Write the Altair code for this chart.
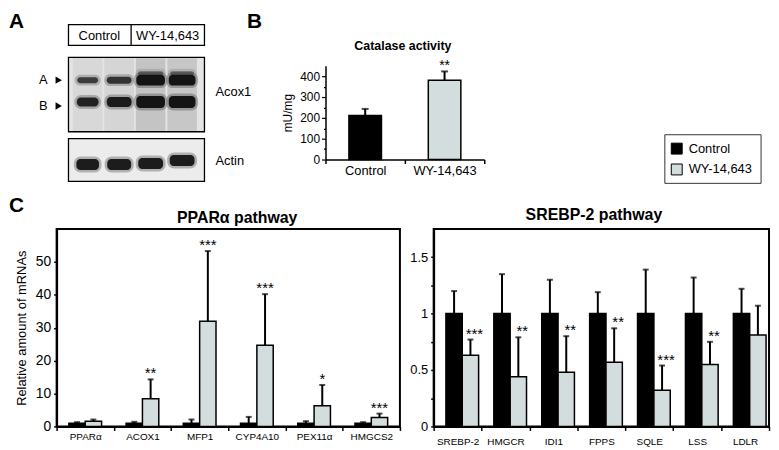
import altair as alt
import pandas as pd

FONT = "Liberation Sans"
CTRL_COLOR = "#000000"
WY_COLOR = "#d4dddd"
series = ["Control", "WY-14,643"]

# ---------------- Panel A (western blot schematic) ----------------
blot_boxes = ["header", "Acox1", "Actin"]
box_top = [14, 47, 129]
box_bottom = [35, 122, 172]
box_fill = ["white", "#e4e4e4", "#ececec"]
box_left, box_right = 0.39, 4.71
divider_lane = 2.38

lanes = [1, 2, 3, 4]
smear_opacity = [0.2, 0.25, 0.55, 0.5]

band_lane = [1, 2, 3, 4, 1, 2, 3, 4, 1, 2, 3, 4, 3, 4]
band_y = [70, 70, 70, 70, 92, 92, 92, 92, 155, 155, 154, 151, 63, 63]
band_w = [0.66, 0.79, 0.91, 0.85, 0.69, 0.79, 0.91, 0.85, 0.72, 0.76, 0.79, 0.79, 0.8, 0.75]
band_h = [6, 7, 11, 11, 9, 10, 12, 12, 11, 11, 11, 11, 4, 4]
band_int = [0.75, 0.8, 1, 1, 0.9, 0.95, 1, 1, 0.95, 0.95, 0.95, 0.95, 0.45, 0.45]

header_text = ["Control", "WY-14,643"]
header_x = [1.37, 3.54]
side_text = ["Acox1", "Actin"]
side_y = [82, 151]
marker_text = ["A", "B"]
marker_y = [70, 96]

# ---------------- Panel B ----------------
b_groups = ["Control", "WY-14,643"]
b_values = [212, 380]
b_upper = [243, 423]
b_sig = ["", "**"]

# ---------------- Panel C ----------------
genes1 = ["PPARα", "ACOX1", "MFP1", "CYP4A10", "PEX11α", "HMGCS2"]
ctrl1 = [1, 1, 1, 1, 1, 1]
ctrl1_up = [1.3, 1.4, 2.1, 2.9, 1.6, 1.3]
wy1 = [1.6, 8.4, 32.0, 24.7, 6.3, 2.7]
wy1_up = [2.1, 14.3, 53.3, 40.2, 12.6, 3.9]
sig1 = ["", "**", "***", "***", "*", "***"]

genes2 = ["SREBP-2", "HMGCR", "IDI1", "FPPS", "SQLE", "LSS", "LDLR"]
ctrl2 = [1, 1, 1, 1, 1, 1, 1]
ctrl2_up = [1.20, 1.35, 1.30, 1.19, 1.39, 1.32, 1.22]
wy2 = [0.63, 0.44, 0.48, 0.57, 0.32, 0.55, 0.81]
wy2_up = [0.77, 0.79, 0.80, 0.87, 0.54, 0.75, 1.07]
sig2 = ["***", "**", "**", "**", "***", "**", ""]

one = pd.DataFrame({"v": [0]})
color_scale = alt.Scale(domain=series, range=[CTRL_COLOR, WY_COLOR])


# ================= Panel A =================
def qx(f):
    return alt.X(f, type="quantitative", axis=None,
                 scale=alt.Scale(domain=[-1.5, 5.75], nice=False, zero=False))


def qy(f):
    return alt.Y(f, type="quantitative", axis=None,
                 scale=alt.Scale(domain=[0, 182], reverse=True, nice=False, zero=False))


boxes_df = pd.DataFrame({"name": blot_boxes, "y1": box_top, "y2": box_bottom, "fill": box_fill,
                         "x1": [box_left] * 3, "x2": [box_right] * 3})
smear_df = pd.DataFrame({"lane": lanes, "op": smear_opacity})
bands_df = pd.DataFrame({"lane": band_lane, "yc": band_y, "w": band_w, "h": band_h, "i": band_int})

box_fill_layer = alt.Chart(boxes_df).mark_rect().encode(
    x=qx("x1"), x2=alt.X2("x2"), y=qy("y1"), y2=alt.Y2("y2"),
    fill=alt.Fill("fill:N", scale=None))

smear_layer = alt.Chart(smear_df).transform_calculate(
    x1="datum.lane - 0.47", x2="datum.lane + 0.47", y1="48", y2="121"
).mark_rect(color="#a9a9a9").encode(
    x=qx("x1"), x2=alt.X2("x2"), y=qy("y1"), y2=alt.Y2("y2"),
    opacity=alt.Opacity("op:Q", scale=None))

halo_layer = alt.Chart(bands_df).transform_calculate(
    x1="datum.lane - datum.w/2 - 0.08", x2="datum.lane + datum.w/2 + 0.08",
    y1="datum.yc - datum.h/2 - 2.5", y2="datum.yc + datum.h/2 + 2.5", op="datum.i*0.35"
).mark_rect(color="#3a3a3a", cornerRadius=7).encode(
    x=qx("x1"), x2=alt.X2("x2"), y=qy("y1"), y2=alt.Y2("y2"),
    opacity=alt.Opacity("op:Q", scale=None))

core_layer = alt.Chart(bands_df).transform_calculate(
    x1="datum.lane - datum.w/2", x2="datum.lane + datum.w/2",
    y1="datum.yc - datum.h/2", y2="datum.yc + datum.h/2"
).mark_rect(color="#141414", cornerRadius=4).encode(
    x=qx("x1"), x2=alt.X2("x2"), y=qy("y1"), y2=alt.Y2("y2"),
    opacity=alt.Opacity("i:Q", scale=None))

box_outline = alt.Chart(boxes_df).mark_rect(fillOpacity=0, stroke="black", strokeWidth=1.3).encode(
    x=qx("x1"), x2=alt.X2("x2"), y=qy("y1"), y2=alt.Y2("y2"))

divider_df = pd.DataFrame({"x": [divider_lane], "y1": [box_top[0]], "y2": [box_bottom[0]]})
divider = alt.Chart(divider_df).mark_rule(color="black", strokeWidth=1.3).encode(
    x=qx("x"), y=qy("y1"), y2=alt.Y2("y2"))

header_df = pd.DataFrame({"t": header_text, "x": header_x, "y": [25.5, 25.5]})
header_lbl = alt.Chart(header_df).mark_text(fontSize=13, color="black", baseline="middle").encode(
    x=qx("x"), y=qy("y"), text="t:N")

side_df = pd.DataFrame({"t": side_text, "x": [5.06, 5.06], "y": side_y})
side_lbl = alt.Chart(side_df).mark_text(fontSize=13, color="black", align="left", baseline="middle").encode(
    x=qx("x"), y=qy("y"), text="t:N")

marker_df = pd.DataFrame({"t": marker_text, "x": [-0.27, -0.27], "y": marker_y, "ax": [0.08, 0.08]})
marker_lbl = alt.Chart(marker_df).mark_text(fontSize=13, color="black", align="right", baseline="middle").encode(
    x=qx("x"), y=qy("y"), text="t:N")
marker_arrow = alt.Chart(marker_df).mark_point(shape="triangle-right", filled=True, color="black",
                                               size=55, opacity=1).encode(x=qx("ax"), y=qy("y"))

letter_a = alt.Chart(pd.DataFrame({"t": ["A"], "x": [-1.5], "y": [0]})).mark_text(
    fontSize=21, fontWeight="bold", color="black", align="left", baseline="top").encode(
    x=qx("x"), y=qy("y"), text="t:N")

panel_a = alt.layer(box_fill_layer, smear_layer, halo_layer, core_layer, box_outline, divider,
                    header_lbl, side_lbl, marker_lbl, marker_arrow, letter_a).properties(width=230, height=182)

# ================= Panel B =================
dfB = pd.DataFrame({"group": b_groups, "value": b_values, "upper": b_upper, "sig": b_sig})
xB = alt.X("group:N", sort=b_groups, scale=alt.Scale(paddingInner=0, paddingOuter=0),
           axis=alt.Axis(title=None, labelAngle=0, tickBand="extent", tickSize=4, labelPadding=1,
                         labelFontSize=13, domainWidth=1.5, tickWidth=1.5))
yB = alt.Y("value:Q", scale=alt.Scale(domain=[0, 450], range=[150, 55.5], nice=False),
           axis=alt.Axis(values=list(range(0, 401, 50)), tickCount=40, labelOverlap=False,
                         labelExpr="datum.value % 100 == 0 ? format(datum.value, 'd') : ''",
                         tickSize={"condition": {"test": "datum.value % 100 != 0", "value": 2}, "value": 4},
                         title="mU/mg", titleFontSize=12, titleFontWeight="normal", titlePadding=5,
                         labelFontSize=12, labelPadding=2, domainWidth=1.5, tickWidth=1.2))
b_bars = alt.Chart(dfB).mark_bar(width=alt.RelativeBandSize(0.41), stroke="black", strokeWidth=1.5).encode(
    x=xB, y=yB, color=alt.Color("group:N", scale=color_scale, legend=None))
b_err = alt.Chart(dfB).mark_rule(color="black", strokeWidth=2).encode(
    x=xB, y=alt.Y("value:Q"), y2=alt.Y2("upper"))
b_cap = alt.Chart(dfB).mark_tick(color="black", thickness=2, size=7).encode(x=xB, y=alt.Y("upper:Q"))
b_star = alt.Chart(dfB).mark_text(fontSize=14, color="black", dy=-1, baseline="alphabetic").encode(
    x=xB, y=alt.Y("upper:Q"), text="sig:N")
b_title = alt.Chart(one).mark_text(text="Catalase activity", fontSize=12.5, fontWeight="bold",
                                   color="black", baseline="alphabetic").encode(
    x=alt.value(78), y=alt.value(40))
letter_b = alt.Chart(one).mark_text(text="B", fontSize=21, fontWeight="bold", color="black",
                                    align="left", baseline="top").encode(x=alt.value(-79), y=alt.value(0))
panel_b = alt.layer(b_bars, b_err, b_cap, b_star, b_title, letter_b).properties(width=160, height=150)

# ================= Legend =================
leg_df = pd.DataFrame({"label": series})
leg_y = alt.Y("label:N", sort=series, axis=None, scale=alt.Scale(type="point", range=[139, 160], padding=0))
leg_box = alt.Chart(one).mark_rect(fill="white", stroke="#333333", strokeWidth=1).encode(
    x=alt.value(93), x2=alt.value(190), y=alt.value(125), y2=alt.value(174))
leg_sw = alt.Chart(leg_df).mark_square(size=121, stroke="black", strokeWidth=1, opacity=1).encode(
    x=alt.value(105), y=leg_y, fill=alt.Fill("label:N", scale=color_scale, legend=None))
leg_txt = alt.Chart(leg_df).mark_text(fontSize=13, color="black", align="left", baseline="middle").encode(
    x=alt.value(117), y=leg_y, text="label:N")
panel_leg = alt.layer(leg_box, leg_sw, leg_txt).properties(width=190, height=174)


# ================= Panel C =================
def pathway(genes, ctrl, ctrl_up, wy, wy_up, sig, width, ymax, yvals, label_expr, label_size, ytitle,
            title, title_x, title_y, label_pad, off_pad, star_dx):
    rows = []
    for g, c, cu, w, wu, s in zip(genes, ctrl, ctrl_up, wy, wy_up, sig):
        rows.append({"gene": g, "series": series[0], "value": c, "upper": cu, "sig": ""})
        rows.append({"gene": g, "series": series[1], "value": w, "upper": wu, "sig": s})
    df = pd.DataFrame(rows)
    x = alt.X("gene:N", sort=genes, scale=alt.Scale(paddingInner=0, paddingOuter=0),
              axis=alt.Axis(title=None, labelAngle=0, tickBand="extent", tickSize=4, labelPadding=label_pad,
                            labelFontSize=10, domainWidth=2, tickWidth=1.5, labelOverlap=False))
    xo = alt.XOffset("series:N", sort=series, scale=alt.Scale(paddingInner=0, paddingOuter=off_pad))
    ax_kw = dict(values=yvals, tickCount=40, tickSize=3, labelPadding=3, labelFontSize=label_size,
                 domainWidth=2, tickWidth=1.5, labelExpr=label_expr, labelOverlap=False)
    if ytitle:
        ax_kw.update(title=ytitle, titleFontSize=13, titleFontWeight="normal", titlePadding=7)
    else:
        ax_kw["title"] = None
    y = alt.Y("value:Q", scale=alt.Scale(domain=[0, ymax], nice=False), axis=alt.Axis(**ax_kw))
    base = alt.Chart(df)
    bars = base.mark_bar(stroke="black", strokeWidth=1.5).encode(
        x=x, xOffset=xo, y=y, color=alt.Color("series:N", scale=color_scale, legend=None))
    err = base.mark_rule(color="black", strokeWidth=2).encode(
        x=x, xOffset=xo, y=alt.Y("value:Q"), y2=alt.Y2("upper"))
    cap = base.mark_tick(color="black", thickness=2, size=6).encode(x=x, xOffset=xo, y=alt.Y("upper:Q"))
    star = base.mark_text(fontSize=15, color="black", dy=-1, dx=star_dx, baseline="alphabetic").encode(
        x=x, xOffset=xo, y=alt.Y("upper:Q"), text="sig:N")
    head = alt.Chart(one).mark_text(text=title, fontSize=16, fontWeight="bold", color="black",
                                    baseline="alphabetic").encode(x=alt.value(title_x), y=alt.value(title_y))
    return alt.layer(bars, err, cap, star, head).properties(
        width=width, height=199, view=alt.ViewBackground(stroke="black", strokeWidth=2))


panel_c1 = pathway(genes1, ctrl1, ctrl1_up, wy1, wy1_up, sig1, 346, 60, [0, 10, 20, 30, 40, 50],
                   "format(datum.value, 'd')", 14,
                   "Relative amount of mRNAs", "PPARα pathway", 182, -6, 1, 0.75, 0)
panel_c2 = pathway(genes2, ctrl2, ctrl2_up, wy2, wy2_up, sig2, 338, 1.75,
                   [0, 0.25, 0.5, 0.75, 1, 1.25, 1.5],
                   "datum.value % 0.5 == 0 ? format(datum.value, '~g') : ''", 13,
                   None, "SREBP-2 pathway", 161.5, -9, 6, 0.6, 4)

# left spacer of the bottom row also carries the panel letter C
spacer = alt.Chart(one).mark_text(text="C", fontSize=21, fontWeight="bold", color="black",
                                  align="left", baseline="top").encode(
    x=alt.value(0), y=alt.value(-34)).properties(width=14, height=199)

top_row = alt.hconcat(panel_a, panel_b, panel_leg, spacing=89, bounds="flush")
bottom_row = alt.hconcat(spacer, panel_c1, panel_c2, spacing=34, bounds="flush")

# nested rows report no height under flush bounds, so the row gap is the full offset
chart = alt.vconcat(top_row, bottom_row, spacing=220, bounds="flush", padding=0).configure(
    font=FONT
).configure_axis(
    labelColor="black", titleColor="black", domainColor="black", tickColor="black", grid=False,
    labelFont=FONT, titleFont=FONT, labelOverlap=False
).configure_view(stroke="transparent")

chart.save("out.html", embed_options={"renderer": "svg", "actions": False})
